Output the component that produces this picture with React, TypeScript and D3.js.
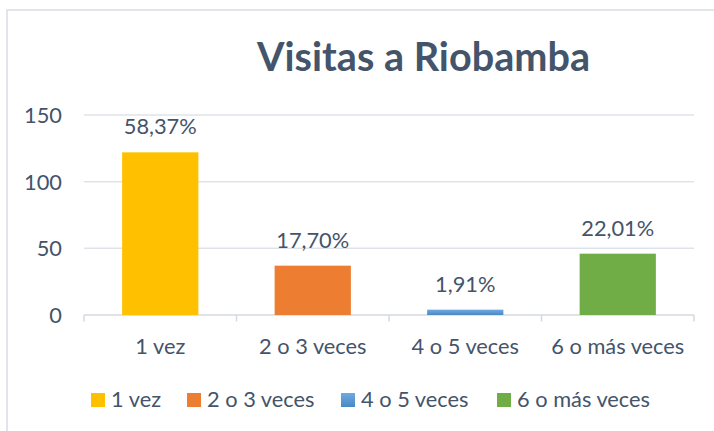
import React from "react";
import * as d3 from "d3";

const categories = ["1 vez", "2 o 3 veces", "4 o 5 veces", "6 o más veces"];
const values = [122, 37, 4, 46];
const percentLabels = ["58,37%", "17,70%", "1,91%", "22,01%"];
const yTicks = [0, 50, 100, 150];
const colors = ["#FFC000", "#ED7D31", "url(#blueGrad)", "#70AD47"];
const legendX = [91, 187, 341, 497];

const W = 714;
const H = 431;
const TEXT = "#44546A";
const FONT = "Lato, 'Open Sans', sans-serif";
const FS = 21.8;

export default function App() {
  const x = d3.scaleBand<string>().domain(categories).range([84, 694]).paddingInner(0.5).paddingOuter(0.25);
  const y = d3.scaleLinear().domain([0, 150]).range([315, 115]);
  const step = x.step();
  const boundaries = d3.range(categories.length + 1).map((i) => 84 + i * step);

  return (
    <svg width={W} height={H} style={{ position: "absolute", left: 0, top: 0, background: "#fff" }} fontFamily={FONT}>
      <defs>
        <linearGradient id="blueGrad" x1="0" y1="0" x2="0" y2="1">
          <stop offset="0" stopColor="#6FA9DF" />
          <stop offset="1" stopColor="#4A87C6" />
        </linearGradient>
      </defs>
      <rect x={7} y={10} width={W + 20} height={H + 20} fill="#fff" stroke="#D9DDE3" strokeWidth={1.5} />
      <text x={423.5} y={70.5} textAnchor="middle" fontSize={40} fontWeight={700} fill={TEXT} textLength={333} lengthAdjust="spacingAndGlyphs">
        Visitas a Riobamba
      </text>
      {yTicks.map((t) => (
        <g key={t}>
          <line x1={84} x2={694} y1={y(t)} y2={y(t)} stroke={t === 0 ? "#D5DAE1" : "#DFE3E9"} strokeWidth={1.5} />
          <text x={62} y={y(t)} dy="0.36em" textAnchor="end" fontSize={FS} fill={TEXT}>
            {t}
          </text>
        </g>
      ))}
      {boundaries.map((b, i) => (
        <line key={i} x1={b} x2={b} y1={y(0)} y2={y(0) + 6.5} stroke="#D5DAE1" strokeWidth={1.5} />
      ))}
      {categories.map((c, i) => (
        <g key={c}>
          <rect x={x(c)!} y={y(values[i])} width={x.bandwidth()} height={y(0) - y(values[i])} fill={colors[i]} />
          <text x={x(c)! + x.bandwidth() / 2} y={y(values[i]) - 18} textAnchor="middle" fontSize={FS} fill={TEXT}>
            {percentLabels[i]}
          </text>
          <text x={x(c)! + x.bandwidth() / 2} y={354} textAnchor="middle" fontSize={FS} fill={TEXT}>
            {c}
          </text>
        </g>
      ))}
      {categories.map((c, i) => (
        <g key={"lg" + c}>
          <rect x={legendX[i]} y={393} width={14} height={14} fill={colors[i]} />
          <text x={legendX[i] + 20} y={407} fontSize={FS} fill={TEXT}>
            {c}
          </text>
        </g>
      ))}
    </svg>
  );
}
